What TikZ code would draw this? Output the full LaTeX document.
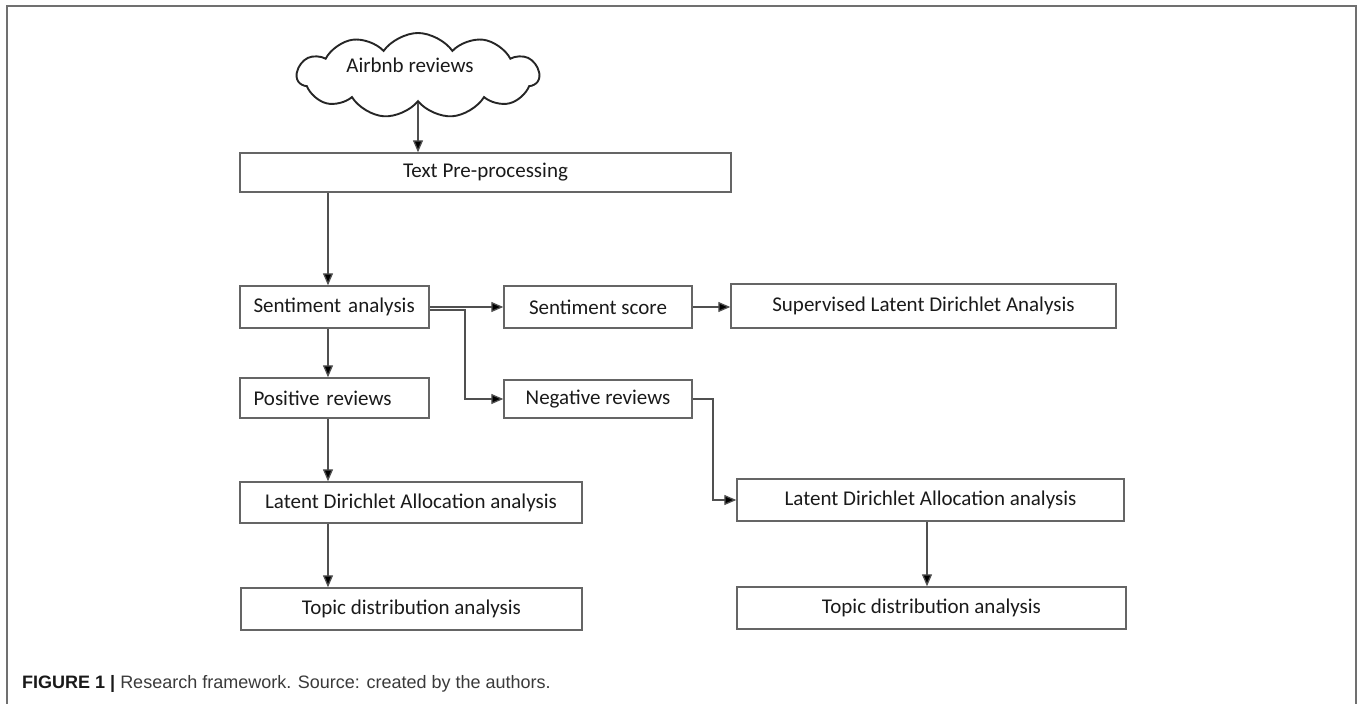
\documentclass[tikz,border=0pt]{standalone}
\usepackage{graphicx}
\usepackage{fontspec}
\setmainfont{Carlito}
\newfontfamily\capfont{Liberation Sans}
\usetikzlibrary{arrows.meta,shapes.symbols}
\definecolor{boxline}{HTML}{656565}
\definecolor{conline}{HTML}{505050}
\definecolor{txt}{HTML}{1A1A1A}
\definecolor{framegray}{HTML}{707070}
\definecolor{capgray}{HTML}{3A3A3A}
\begin{document}
\begin{tikzpicture}[x=1pt,y=-1pt,
  stepbox/.style={draw=boxline,line width=1.4pt,inner sep=0pt,font=\fontsize{21}{25}\selectfont,text=txt,minimum height=40pt},
  leftbox/.style={stepbox,inner xsep=0pt,text width=189pt,align=left,execute at begin node={\hspace*{13.5pt}}},
  arr/.style={draw=conline,line width=1.3pt,-{Triangle[length=12pt,width=10pt,fill=black]}},
  cloudnode/.style={cloud,cloud puffs=11,cloud puff arc=110,cloud ignores aspect,draw=black!85,line width=1.9pt,
    minimum width=242pt,minimum height=85pt,inner sep=0pt,font=\fontsize{21}{25}\selectfont,text=txt,
    text height=15pt,text depth=22pt}
]
\useasboundingbox (0,0) rectangle (1360,704);
\draw[framegray,line width=2pt] (7,704) -- (7,6) -- (1356,6) -- (1356,704);

\node[cloudnode] (cloud) at (418,75.5) {\hspace*{-16pt}Airbnb reviews};
\node[stepbox,minimum width=491pt,minimum height=39pt] (tpp) at (485.5,172.5) {Text Pre-processing};
\node[leftbox,minimum height=42pt] (sa) at (334.5,307) {Sentiment analysis};
\node[stepbox,minimum width=188pt,minimum height=42pt] (ss) at (598,307) {Sentiment score};
\node[stepbox,minimum width=385pt,minimum height=44pt] (sup) at (923.5,306) {Supervised Latent Dirichlet Analysis};
\node[leftbox,minimum height=40pt] (pos) at (334.5,398) {Positive reviews};
\node[stepbox,minimum width=188pt,minimum height=38pt] (neg) at (598,399) {Negative reviews};
\node[stepbox,minimum width=342pt,minimum height=41pt] (lda1) at (411,502.5) {Latent Dirichlet Allocation analysis};
\node[stepbox,minimum width=341pt,minimum height=42pt] (top1) at (411.5,609) {Topic distribution analysis};
\node[stepbox,minimum width=387pt,minimum height=42pt] (lda2) at (930.5,500) {Latent Dirichlet Allocation analysis};
\node[stepbox,minimum width=389pt,minimum height=42pt] (top2) at (931.5,608) {Topic distribution analysis};

\coordinate (lc) at (328,0);
\coordinate (rc) at (927,0);
\coordinate (jn) at (465,0);
\coordinate (nb) at (713,0);

\draw[arr] (cloud.south) -- (cloud.south |- tpp.north);
\draw[arr] (tpp.south -| lc) -- (sa.north -| lc);
\draw[arr] (sa.east) -- (ss.west);
\draw[arr] ([yshift=-3pt]sa.east) -- ([yshift=-3pt]sa.east -| jn) |- (neg.west);
\draw[arr] (ss.east) -- (ss.east -| sup.west);
\draw[arr] (sa.south -| lc) -- (pos.north -| lc);
\draw[arr] (neg.east) -- (neg.east -| nb) |- (lda2.west);
\draw[arr] (pos.south -| lc) -- (lda1.north -| lc);
\draw[arr] (lda1.south -| lc) -- (top1.north -| lc);
\draw[arr] (lda2.south -| rc) -- (top2.north -| rc);

\node[anchor=west,inner sep=0pt,font=\capfont\fontsize{18}{22}\selectfont,text=capgray] (cap) at (22,684)
  {\textcolor{black!90}{\textbf{FIGURE 1 |}} Research framework. Source: created by the authors.};
\end{tikzpicture}
\end{document}
